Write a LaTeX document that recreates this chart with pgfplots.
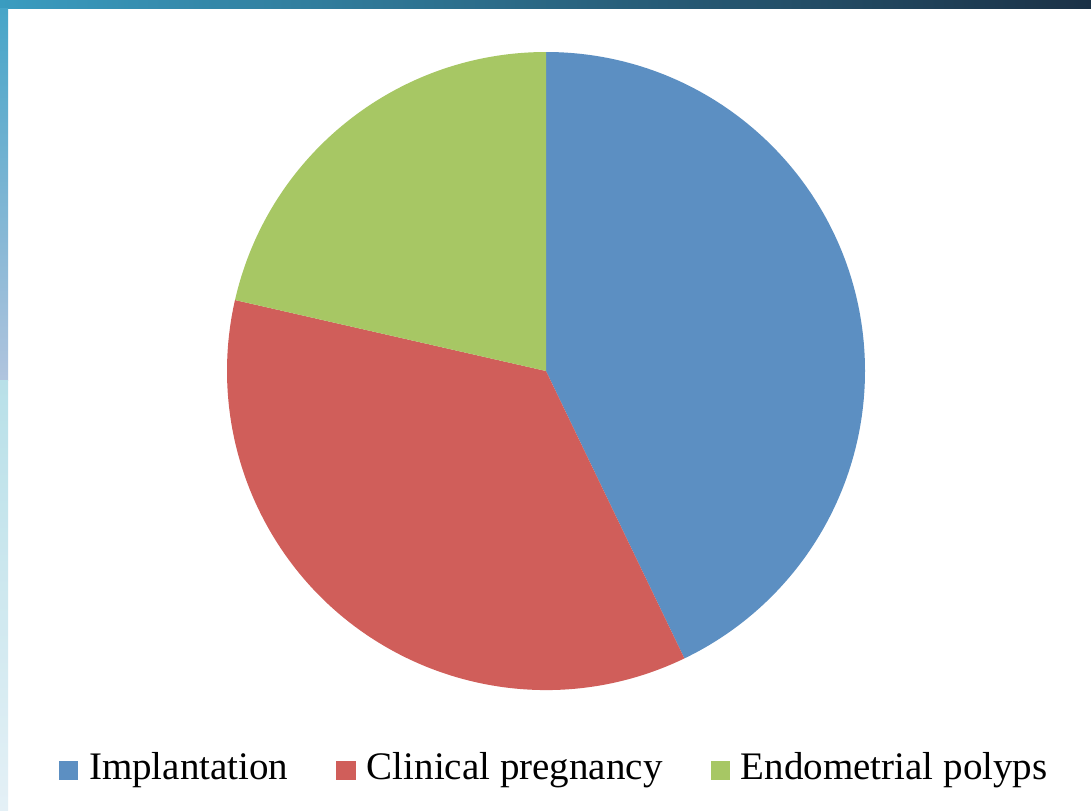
\documentclass[border=0pt]{standalone}
\usepackage{fontspec}
\setmainfont{Liberation Serif}
\usepackage{pgfplots}
\usepackage{pgfplotstable}
\pgfplotsset{compat=1.18}

\definecolor{cBlue}{RGB}{92,143,194}
\definecolor{cRed}{RGB}{208,94,90}
\definecolor{cGreen}{RGB}{167,199,100}
\definecolor{topL}{RGB}{58,156,192}
\definecolor{topR}{RGB}{27,49,70}
\definecolor{leftA}{RGB}{70,165,200}
\definecolor{leftB}{RGB}{176,196,222}
\definecolor{leftC}{RGB}{184,224,232}
\definecolor{leftD}{RGB}{228,240,246}

\pgfplotstableread{
label value
Implantation 6
Clinical 5
Endometrial 3
}\piedata

\begin{document}
\begin{tikzpicture}
\useasboundingbox (0,0) rectangle (10.91,8.10);
\fill[white] (0,0) rectangle (10.91,8.10);
\shade[left color=topL, right color=topR] (0,8.02) rectangle (10.91,8.10);
\shade[top color=leftA, bottom color=leftB] (0,4.30) rectangle (0.08,8.02);
\shade[top color=leftC, bottom color=leftD] (0,0) rectangle (0.08,4.30);

\pgfplotstablegetelem{0}{value}\of\piedata \let\vA\pgfplotsretval
\pgfplotstablegetelem{1}{value}\of\piedata \let\vB\pgfplotsretval
\pgfplotstablegetelem{2}{value}\of\piedata \let\vC\pgfplotsretval
\pgfmathsetmacro{\tot}{\vA+\vB+\vC}
\pgfmathsetmacro{\aA}{90}
\pgfmathsetmacro{\aB}{\aA-360*\vA/\tot}
\pgfmathsetmacro{\aC}{\aB-360*\vB/\tot}
\pgfmathsetmacro{\aD}{\aC-360*\vC/\tot}

\begin{axis}[
  at={(5.46cm,4.39cm)}, anchor=origin,
  x=3.19cm, y=3.19cm,
  xmin=-1, xmax=1, ymin=-1, ymax=1,
  hide axis, clip=false,
  legend columns=3,
  legend style={
    at={(axis cs:-1.53,-1.247)}, anchor=west,
    draw=none, fill=none, inner sep=0pt,
    font=\fontsize{11.1}{13}\selectfont,
    nodes={inner sep=0pt, anchor=base west},
    /tikz/every even column/.append style={column sep=0.48cm},
  },
]
\fill[cBlue] (axis cs:0,0) -- (axis cs:{cos(\aA)},{sin(\aA)})
  arc[start angle=\aA, end angle=\aB, radius=3.19cm] -- cycle;
\fill[cRed] (axis cs:0,0) -- (axis cs:{cos(\aB)},{sin(\aB)})
  arc[start angle=\aB, end angle=\aC, radius=3.19cm] -- cycle;
\fill[cGreen] (axis cs:0,0) -- (axis cs:{cos(\aC)},{sin(\aC)})
  arc[start angle=\aC, end angle=\aD, radius=3.19cm] -- cycle;

\addlegendimage{legend image code/.code={\fill[cBlue] (0cm,0cm) rectangle (0.18cm,0.18cm); \path (0.29cm,0cm);}}
\addlegendentry{Implantation}
\addlegendimage{legend image code/.code={\fill[cRed] (0cm,0cm) rectangle (0.18cm,0.18cm); \path (0.29cm,0cm);}}
\addlegendentry{Clinical pregnancy}
\addlegendimage{legend image code/.code={\fill[cGreen] (0cm,0cm) rectangle (0.18cm,0.18cm); \path (0.29cm,0cm);}}
\addlegendentry{Endometrial polyps}
\end{axis}
\end{tikzpicture}
\end{document}
